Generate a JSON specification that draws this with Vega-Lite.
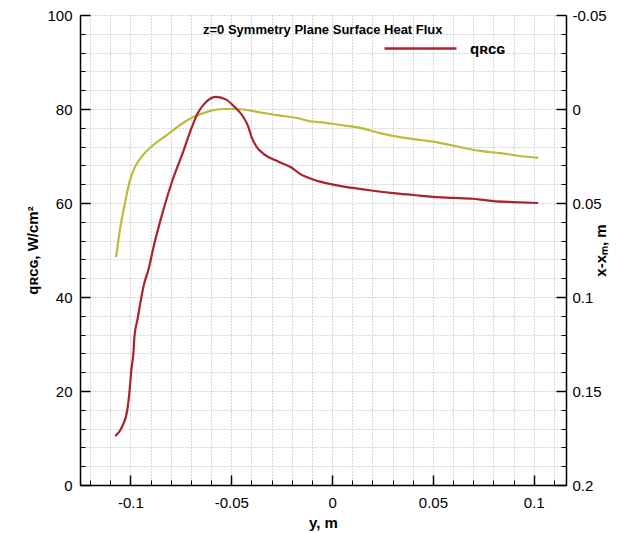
{
  "$schema": "https://vega.github.io/schema/vega-lite/v6.json",
  "width": 486,
  "height": 470,
  "autosize": "none",
  "padding": {"left": 80, "top": 15, "right": 58, "bottom": 48},
  "background": "white",
  "config": {
    "font": "Liberation Sans",
    "view": {"stroke": null},
    "axis": {"labelFont": "Liberation Sans", "titleFont": "Liberation Sans", "labelColor": "#000", "titleColor": "#000", "tickColor": "#000", "domainColor": "#000"}
  },
  "title": {
    "text": "z=0 Symmetry Plane Surface Heat Flux",
    "anchor": "start",
    "frame": "group",
    "dx": 123,
    "offset": 0,
    "dy": 42,
    "baseline": "bottom",
    "fontSize": 13,
    "fontWeight": "bold",
    "color": "#000"
  },
  "datasets": {
    "heat": [
      {"y": -0.1075, "q": 10.4}, {"y": -0.104, "q": 12.5}, {"y": -0.1015, "q": 16.1},
      {"y": -0.1005, "q": 19.7}, {"y": -0.0995, "q": 24.6}, {"y": -0.0985, "q": 28.2},
      {"y": -0.098, "q": 31.6}, {"y": -0.0965, "q": 35.2}, {"y": -0.095, "q": 38.9},
      {"y": -0.0935, "q": 42.3}, {"y": -0.091, "q": 45.9}, {"y": -0.0885, "q": 50.7},
      {"y": -0.084, "q": 58}, {"y": -0.079, "q": 65}, {"y": -0.074, "q": 70.7},
      {"y": -0.07, "q": 75.6}, {"y": -0.0665, "q": 79.2}, {"y": -0.0625, "q": 81.5},
      {"y": -0.0575, "q": 82.6}, {"y": -0.0525, "q": 82}, {"y": -0.0485, "q": 80.5},
      {"y": -0.044, "q": 78.3}, {"y": -0.0415, "q": 76.2}, {"y": -0.04, "q": 74.1},
      {"y": -0.0375, "q": 72}, {"y": -0.0335, "q": 70.3}, {"y": -0.0265, "q": 68.8},
      {"y": -0.02, "q": 67.5}, {"y": -0.0159, "q": 66.2}, {"y": -0.0094, "q": 65},
      {"y": 0.0005, "q": 63.9}, {"y": 0.0104, "q": 63.2}, {"y": 0.0203, "q": 62.6},
      {"y": 0.0303, "q": 62.1}, {"y": 0.0402, "q": 61.7}, {"y": 0.0501, "q": 61.3},
      {"y": 0.06, "q": 61.1}, {"y": 0.0699, "q": 60.9}, {"y": 0.0799, "q": 60.4},
      {"y": 0.0898, "q": 60.2}, {"y": 0.1022, "q": 60}
    ],
    "shape": [
      {"y": -0.1071, "xm": 0.0788}, {"y": -0.1052, "xm": 0.0643}, {"y": -0.1027, "xm": 0.05},
      {"y": -0.1002, "xm": 0.0378}, {"y": -0.0977, "xm": 0.0308}, {"y": -0.0938, "xm": 0.0245},
      {"y": -0.0888, "xm": 0.0193}, {"y": -0.0818, "xm": 0.0138}, {"y": -0.0754, "xm": 0.0085},
      {"y": -0.0689, "xm": 0.0043}, {"y": -0.062, "xm": 0.0015}, {"y": -0.0541, "xm": 0.0},
      {"y": -0.0471, "xm": 0.0}, {"y": -0.0372, "xm": 0.0015}, {"y": -0.0273, "xm": 0.0033},
      {"y": -0.0174, "xm": 0.0048}, {"y": -0.0109, "xm": 0.0065}, {"y": -0.006, "xm": 0.007},
      {"y": 0.004, "xm": 0.0085}, {"y": 0.0139, "xm": 0.01}, {"y": 0.0238, "xm": 0.0128},
      {"y": 0.0337, "xm": 0.015}, {"y": 0.0437, "xm": 0.0165}, {"y": 0.0536, "xm": 0.018},
      {"y": 0.0635, "xm": 0.0203}, {"y": 0.0734, "xm": 0.0223}, {"y": 0.0833, "xm": 0.0235},
      {"y": 0.0933, "xm": 0.025}, {"y": 0.1022, "xm": 0.026}
    ]
  },
  "layer": [
    {
      "data": {"name": "heat"},
      "mark": {"type": "line", "opacity": 0},
      "encoding": {
        "x": {"field": "y", "type": "quantitative", "scale": {"domain": [-0.125, 0.116], "nice": false, "zero": false},
          "axis": {"orient": "bottom", "values": [-0.12,-0.11,-0.1,-0.09,-0.08,-0.07,-0.06,-0.05,-0.04,-0.03,-0.02,-0.01,0,0.01,0.02,0.03,0.04,0.05,0.06,0.07,0.08,0.09,0.1,0.11],
            "labels": false, "title": null, "domain": false, "tickSize": -5, "tickWidth": 1,
            "grid": true, "gridDash": [1, 2], "gridColor": "#9aa4ae", "gridWidth": 1, "gridOpacity": 0.85, "zindex": 0}},
        "y": {"field": "q", "type": "quantitative", "scale": {"domain": [0, 100], "nice": false},
          "axis": {"orient": "left", "values": [0,4,8,12,16,20,24,28,32,36,40,44,48,52,56,60,64,68,72,76,80,84,88,92,96,100],
            "labels": false, "title": null, "domain": false, "tickSize": -5, "tickWidth": 1,
            "grid": true, "gridDash": [1, 2], "gridColor": "#9aa4ae", "gridWidth": 1, "gridOpacity": 0.85, "zindex": 0}}
      }
    },
    {
      "data": {"name": "shape"},
      "mark": {"type": "line", "opacity": 0},
      "encoding": {
        "x": {"field": "y", "type": "quantitative", "scale": {"domain": [-0.125, 0.116], "nice": false, "zero": false},
          "axis": {"orient": "bottom", "values": [-0.1, -0.05, 0, 0.05, 0.1], "labelExpr": "'' + datum.value",
            "labelFontSize": 15, "labelPadding": 20, "tickSize": -10, "tickWidth": 1.5, "domainWidth": 1.5,
            "grid": false, "title": "y, m", "titleFontSize": 15, "titleFontWeight": "bold", "titlePadding": 5, "zindex": 1}},
        "y": {"field": "xm", "type": "quantitative", "scale": {"domain": [-0.05, 0.2], "reverse": true, "nice": false, "zero": false},
          "axis": {"orient": "right", "values": [-0.05,-0.04,-0.03,-0.02,-0.01,0,0.01,0.02,0.03,0.04,0.05,0.06,0.07,0.08,0.09,0.1,0.11,0.12,0.13,0.14,0.15,0.16,0.17,0.18,0.19,0.2],
            "labels": false, "title": null, "domain": false, "tickSize": -5, "tickWidth": 1, "grid": false, "zindex": 1}}
      }
    },
    {
      "data": {"name": "shape"},
      "mark": {"type": "line", "color": "#bcbb3a", "strokeWidth": 2.2, "interpolate": "monotone"},
      "encoding": {
        "x": {"field": "y", "type": "quantitative", "scale": {"domain": [-0.125, 0.116], "nice": false, "zero": false}, "axis": null},
        "y": {"field": "xm", "type": "quantitative", "scale": {"domain": [-0.05, 0.2], "reverse": true, "nice": false, "zero": false},
          "axis": {"orient": "right", "values": [-0.05, 0, 0.05, 0.1, 0.15, 0.2], "labelExpr": "'' + datum.value",
            "labelFontSize": 15, "labelPadding": 16, "tickSize": -10, "tickWidth": 1.5, "domainWidth": 1.5, "grid": false,
            "title": "x-xₘ, m", "titleFontSize": 15, "titleFontWeight": "bold", "titleAngle": -90, "titlePadding": 2, "zindex": 1}}
      }
    },
    {
      "data": {"name": "heat"},
      "mark": {"type": "line", "strokeWidth": 2.2, "interpolate": "monotone"},
      "encoding": {
        "x": {"field": "y", "type": "quantitative", "scale": {"domain": [-0.125, 0.116], "nice": false, "zero": false}, "axis": null},
        "y": {"field": "q", "type": "quantitative", "scale": {"domain": [0, 100], "nice": false},
          "axis": {"orient": "left", "values": [0, 20, 40, 60, 80, 100], "labelFontSize": 15, "labelPadding": 18,
            "tickSize": -10, "tickWidth": 1.5, "domainWidth": 1.5, "grid": false,
            "title": "qʀᴄɢ, W/cm²", "titleFontSize": 15, "titleFontWeight": "bold", "titlePadding": 6, "zindex": 1}},
        "color": {"datum": "qʀᴄɢ", "type": "nominal", "scale": {"range": ["#a8232d"]},
          "legend": {"orient": "none", "legendX": 303, "legendY": -4, "title": null, "symbolType": "stroke",
            "symbolSize": 5184, "symbolStrokeWidth": 2.5, "labelFontSize": 15, "labelFontWeight": "bold",
            "labelColor": "#000", "labelOffset": 12, "padding": 0}}
      }
    }
  ],
  "resolve": {"scale": {"y": "independent"}, "axis": {"x": "independent", "y": "independent"}}
}
